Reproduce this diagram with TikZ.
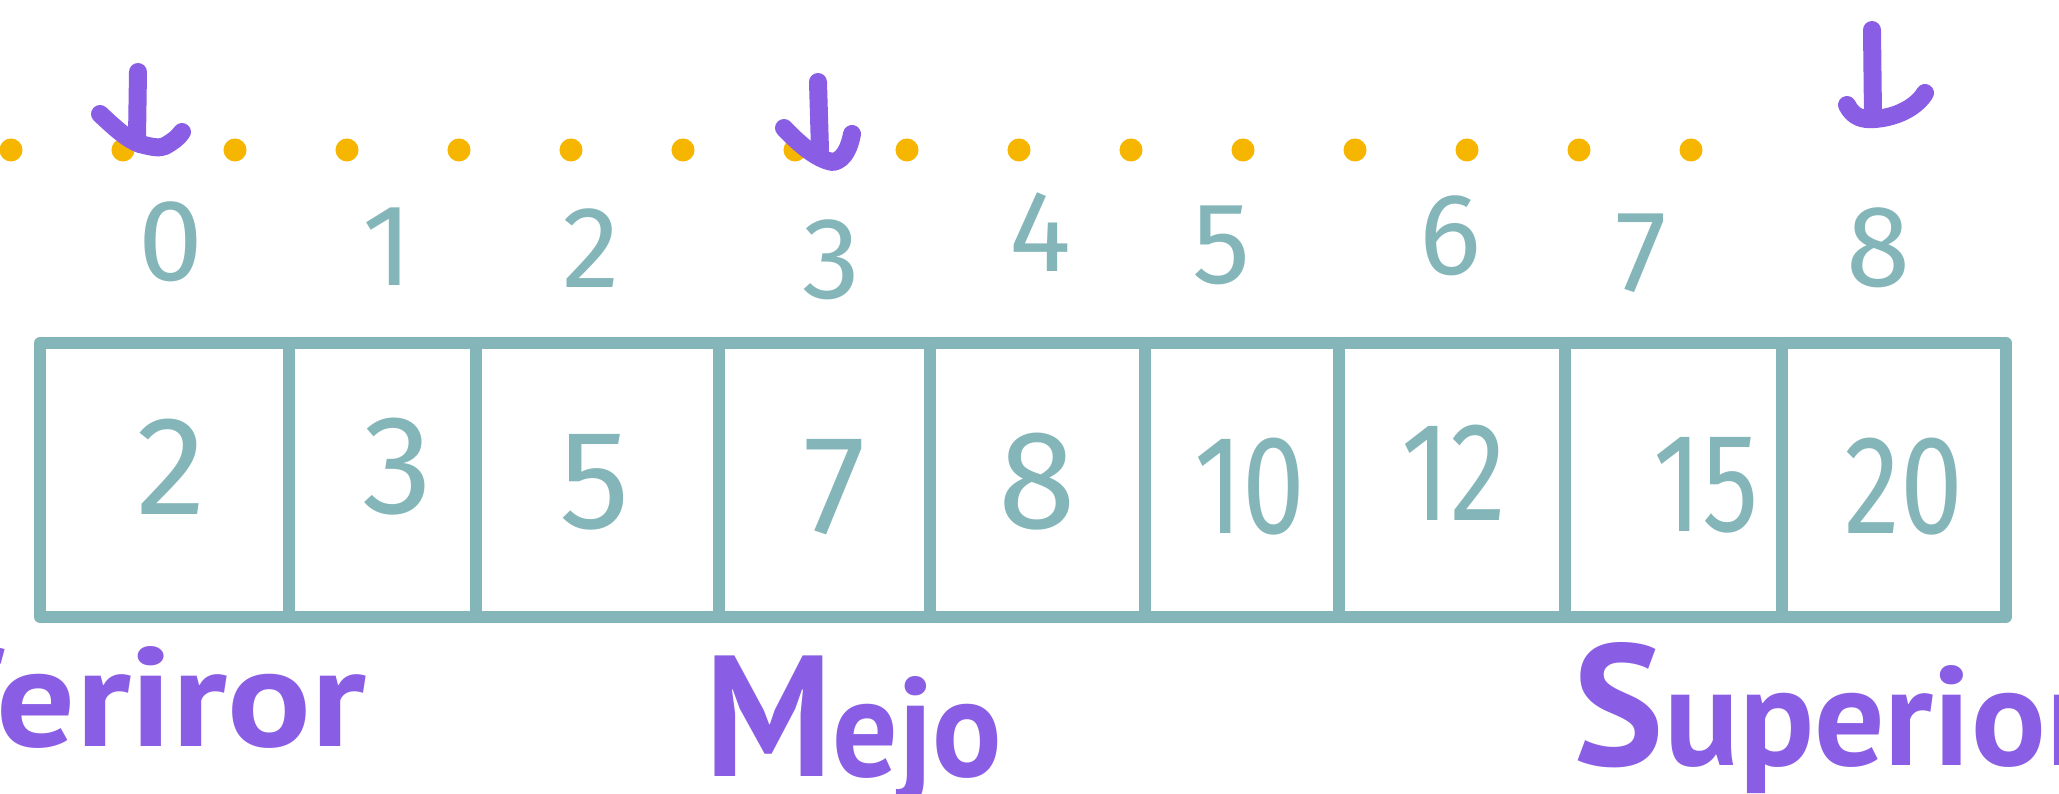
\documentclass[tikz,border=0pt]{standalone}
\usepackage{fontspec}
\setmainfont{Fira Sans}
\newfontfamily\narrowfont{Fira Sans}[FakeStretch=0.8]
\newfontfamily\labelfont{PT Sans}[FakeStretch=0.92]
\newfontfamily\widelabelfont{PT Sans}[FakeStretch=1.11]
\newfontfamily\suplabelfont{PT Sans}[FakeStretch=0.99]
\newcommand{\capinit}[1]{{\fontsize{49}{49}\selectfont #1}}
\definecolor{tealline}{RGB}{132,182,185}
\definecolor{lilac}{RGB}{138,94,228}
\definecolor{dotor}{RGB}{246,182,0}
\tikzset{
  dot/.style={circle,fill=dotor,inner sep=0pt,minimum size=0.23cm},
  boxline/.style={draw=tealline,line width=0.12cm,line cap=round,line join=round},
  idx/.style={text=tealline,inner sep=0pt,font=\fontsize{33}{33}\selectfont},
  val/.style={text=tealline,inner sep=0pt,font=\fontsize{40}{40}\selectfont},
  valtwo/.style={text=tealline,inner sep=0pt,font=\narrowfont\fontsize{40}{40}\selectfont},
  lbl/.style={text=lilac,inner sep=0pt,font=\labelfont\bfseries\fontsize{40}{40}\selectfont},
  parrow/.style={draw=lilac,line width=0.18cm,line cap=round,line join=round}
}
\begin{document}
\begin{tikzpicture}[x=0.01cm,y=-0.01cm]
\useasboundingbox (0,0) rectangle (2059,794);
\clip (0,0) rectangle (2059,794);
\fill[white] (0,0) rectangle (2059,794);
% dots
\foreach \i in {0,...,15} \node[dot] (d\i) at ({11+112*\i},150) {};
% pointers
\draw[parrow] (138,72) -- (137,138);
\draw[parrow] (100,114) .. controls (115,128) and (128,140) .. (140,144);
\draw[parrow] (140,144) .. controls (155,148) and (160,148) .. (165,146) .. controls (172,142) and (178,138) .. (182,132);
\draw[parrow] (818,82) -- (820,150);
\draw[parrow] (784,128) .. controls (800,145) and (818,160) .. (833,162) .. controls (845,160) and (850,145) .. (852,134);
\draw[parrow] (1872,30) -- (1873,115);
\draw[parrow] (1847,105) .. controls (1853,117) and (1862,120) .. (1875,119) .. controls (1900,117) and (1918,105) .. (1925,93);
% indices
\node[idx] (i0) at (171,242) {0};
\node[idx] (i1) at (388,247) {1};
\node[idx] (i2) at (591,248) {2};
\node[idx] (i3) at (831,260) {3};
\node[idx] (i4) at (1040,232) {4};
\node[idx] (i5) at (1222,245) {5};
\node[idx] (i6) at (1450,236) {6};
\node[idx] (i7) at (1641,253) {7};
\node[idx] (i8) at (1878,248) {8};
% array box
\draw[boxline] (40,343) rectangle (2006,617);
\foreach \x in {289,476,719,930,1145,1339,1565,1782} \draw[boxline] (\x,343) -- (\x,617);
% values
\node[val] (v0) at (171,467) {2};
\node[val] (v1) at (398,467) {3};
\node[val] (v2) at (595,482) {5};
\node[val] (v3) at (835,487) {7};
\node[val] (v4) at (1037,482) {8};
\node[valtwo] (v5) at (1250,487) {10};
\node[valtwo] (v6) at (1454,473) {12};
\node[valtwo] (v7) at (1706,485) {15};
\node[valtwo] (v8) at (1904,487) {20};
% labels
\node[lbl,anchor=base east,font=\widelabelfont\bfseries\fontsize{40}{40}\selectfont] (inf) at (367,747) {\capinit{I}nferiror};
\node[lbl,anchor=base west] (mid) at (705,776) {\capinit{M}ejo};
\node[lbl,anchor=base west,font=\suplabelfont\bfseries\fontsize{40}{40}\selectfont] (sup) at (1573,765) {\capinit{S}uperior};
\end{tikzpicture}
\end{document}
